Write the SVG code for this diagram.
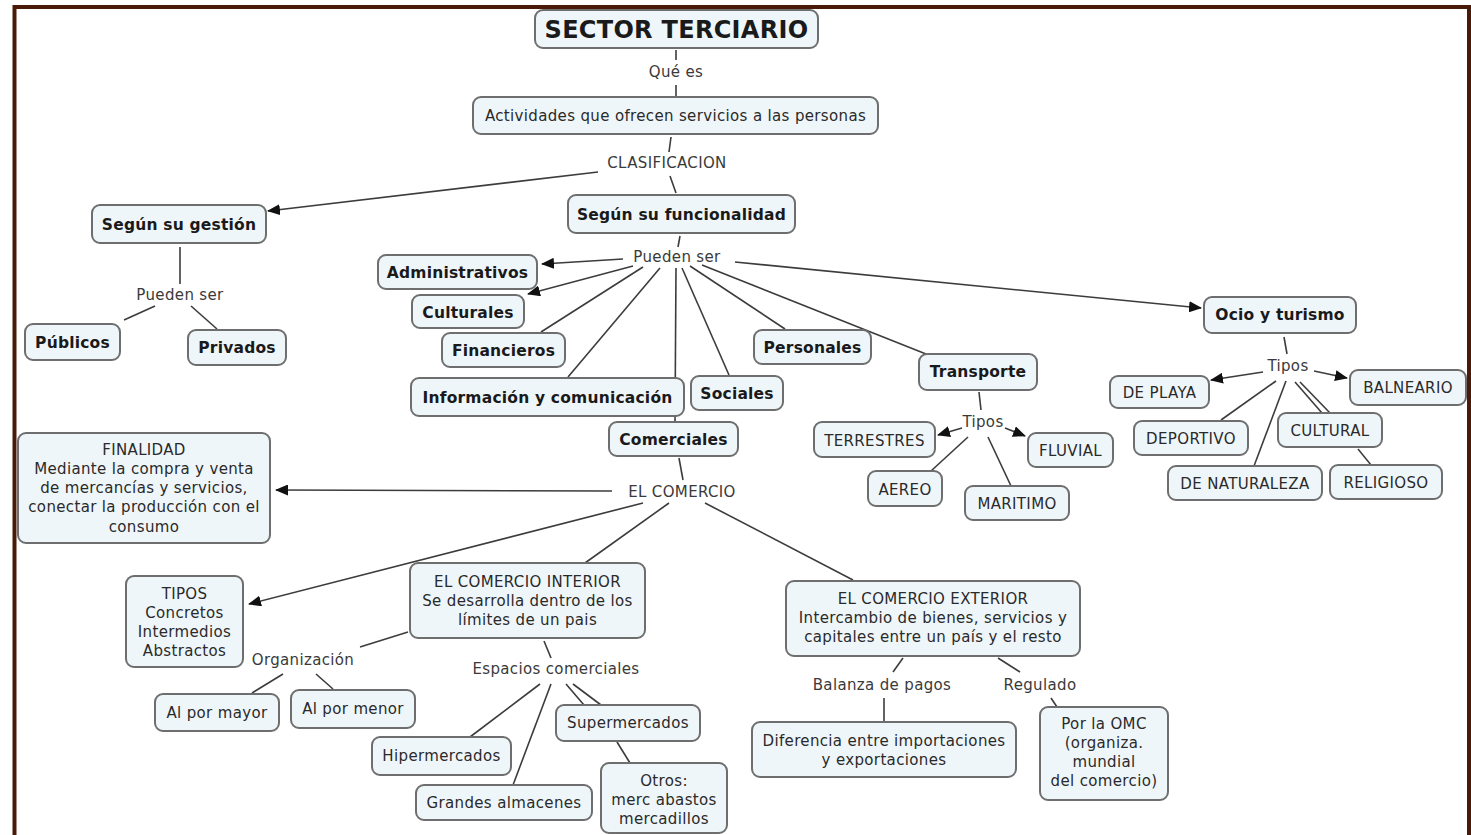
<svg xmlns="http://www.w3.org/2000/svg" width="1471" height="835" viewBox="0 0 1471 835">
<defs>
<marker id="arr" markerWidth="13" markerHeight="11" refX="12" refY="5.5" orient="auto" markerUnits="userSpaceOnUse"><path d="M0,0 L13,5.5 L0,11 z" fill="#111"/></marker>
<style>
.box{fill:#eff6fa;stroke:#6e6e6e;stroke-width:2}
.t{font-family:"DejaVu Sans",Verdana,sans-serif;font-size:15px;letter-spacing:0.35px;fill:#2a2a2a;text-anchor:middle}
.b{font-weight:bold;font-size:15.5px;letter-spacing:0.2px;fill:#1a1a1a}
.lbl{font-family:"DejaVu Sans",Verdana,sans-serif;font-size:15px;letter-spacing:0.35px;fill:#3a3a3a;text-anchor:middle}
.c{stroke:#3c3c3c;stroke-width:1.6;fill:none}
.a{marker-end:url(#arr)}
</style>
</defs>
<rect x="0" y="0" width="1471" height="835" fill="#ffffff"/>
<rect x="14.5" y="7" width="1454.5" height="840" fill="none" stroke="#4a1a08" stroke-width="4"/>

<g id="connectors">
<line class="c" x1="676" y1="50" x2="676" y2="60"/>
<line class="c" x1="676" y1="85" x2="676" y2="97"/>
<line class="c" x1="671" y1="137" x2="669" y2="152"/>
<line class="c a" x1="598" y1="172" x2="268" y2="211"/>
<line class="c" x1="670" y1="176" x2="676" y2="193"/>
<line class="c" x1="180" y1="247" x2="180" y2="284"/>
<line class="c" x1="155" y1="306" x2="124" y2="320"/>
<line class="c" x1="191" y1="306" x2="217" y2="329"/>
<line class="c" x1="680" y1="236" x2="678" y2="247"/>
<line class="c a" x1="623" y1="259" x2="542" y2="264"/>
<line class="c a" x1="633" y1="266" x2="528" y2="294"/>
<line class="c" x1="643" y1="267" x2="541" y2="332"/>
<line class="c" x1="660" y1="268" x2="568" y2="377"/>
<line class="c" x1="676" y1="268" x2="675" y2="422"/>
<line class="c" x1="682" y1="268" x2="729" y2="375"/>
<line class="c" x1="690" y1="266" x2="785" y2="329"/>
<line class="c" x1="702" y1="265" x2="926" y2="354"/>
<line class="c a" x1="735" y1="262" x2="1201" y2="308"/>
<line class="c" x1="979" y1="392" x2="981" y2="410"/>
<line class="c a" x1="962" y1="428" x2="938" y2="435"/>
<line class="c a" x1="1005" y1="428" x2="1025" y2="436"/>
<line class="c" x1="968" y1="437" x2="931" y2="471"/>
<line class="c" x1="988" y1="437" x2="1011" y2="486"/>
<line class="c" x1="1284" y1="337" x2="1287" y2="354"/>
<line class="c a" x1="1263" y1="372" x2="1211" y2="380"/>
<line class="c a" x1="1314" y1="371" x2="1347" y2="378"/>
<line class="c" x1="1276" y1="381" x2="1221" y2="420"/>
<line class="c" x1="1286" y1="381" x2="1254" y2="466"/>
<line class="c" x1="1295" y1="382" x2="1322" y2="413"/>
<line class="c" x1="1300" y1="382" x2="1330" y2="413"/>
<line class="c" x1="1358" y1="449" x2="1371" y2="465"/>
<line class="c" x1="679" y1="458" x2="683" y2="480"/>
<line class="c a" x1="612" y1="491" x2="276" y2="490"/>
<line class="c a" x1="643" y1="503" x2="249" y2="604"/>
<line class="c" x1="669" y1="503" x2="585" y2="563"/>
<line class="c" x1="705" y1="503" x2="853" y2="580"/>
<line class="c" x1="408" y1="632" x2="360" y2="647"/>
<line class="c" x1="283" y1="674" x2="252" y2="693"/>
<line class="c" x1="316" y1="674" x2="333" y2="689"/>
<line class="c" x1="544" y1="641" x2="551" y2="658"/>
<line class="c" x1="540" y1="684" x2="470" y2="737"/>
<line class="c" x1="551" y1="684" x2="513" y2="785"/>
<line class="c" x1="566" y1="684" x2="584" y2="705"/>
<line class="c" x1="573" y1="684" x2="601" y2="705"/>
<line class="c" x1="617" y1="742" x2="630" y2="763"/>
<line class="c" x1="903" y1="658" x2="893" y2="672"/>
<line class="c" x1="884" y1="698" x2="884" y2="721"/>
<line class="c" x1="998" y1="658" x2="1020" y2="672"/>
<line class="c" x1="1051" y1="698" x2="1057" y2="707"/>
</g>

<g id="labels">
<text class="lbl" x="676" y="77">Qué es</text>
<text class="lbl" x="667" y="168">CLASIFICACION</text>
<text class="lbl" x="180" y="300">Pueden ser</text>
<text class="lbl" x="677" y="262">Pueden ser</text>
<text class="lbl" x="983" y="427">Tipos</text>
<text class="lbl" x="1288" y="371">Tipos</text>
<text class="lbl" x="682" y="497">EL COMERCIO</text>
<text class="lbl" x="303" y="665">Organización</text>
<text class="lbl" x="556" y="674">Espacios comerciales</text>
<text class="lbl" x="882" y="690">Balanza de pagos</text>
<text class="lbl" x="1040" y="690">Regulado</text>
</g>

<g id="n-sector"><rect class="box" x="535" y="10" width="283" height="38" rx="8"/><text class="t b" x="676.5" y="37.5" style="font-size:24px;letter-spacing:0.3px">SECTOR TERCIARIO</text></g>
<g id="n-actividades"><rect class="box" x="473" y="97" width="405" height="37" rx="8"/><text class="t" x="675.5" y="120.5">Actividades que ofrecen servicios a las personas</text></g>
<g id="n-gestion"><rect class="box" x="92" y="205" width="174" height="38" rx="8"/><text class="t b" x="179" y="229.5">Según su gestión</text></g>
<g id="n-funcionalidad"><rect class="box" x="568" y="195" width="227" height="38" rx="8"/><text class="t b" x="681.5" y="219.5">Según su funcionalidad</text></g>
<g id="n-publicos"><rect class="box" x="25" y="324" width="95" height="36" rx="8"/><text class="t b" x="72.5" y="347.5">Públicos</text></g>
<g id="n-privados"><rect class="box" x="188" y="330" width="98" height="35" rx="8"/><text class="t b" x="237" y="352.5">Privados</text></g>
<g id="n-administrativos"><rect class="box" x="378" y="255" width="159" height="34" rx="8"/><text class="t b" x="457.5" y="277.5">Administrativos</text></g>
<g id="n-culturales"><rect class="box" x="412" y="295" width="112" height="33" rx="8"/><text class="t b" x="468" y="317.5">Culturales</text></g>
<g id="n-financieros"><rect class="box" x="442" y="333" width="123" height="34" rx="8"/><text class="t b" x="503.5" y="355.5">Financieros</text></g>
<g id="n-informacion"><rect class="box" x="411" y="378" width="273" height="38" rx="8"/><text class="t b" x="547.5" y="402.5">Información y comunicación</text></g>
<g id="n-sociales"><rect class="box" x="691" y="376" width="92" height="34" rx="8"/><text class="t b" x="737" y="398.5">Sociales</text></g>
<g id="n-personales"><rect class="box" x="754" y="330" width="117" height="34" rx="8"/><text class="t b" x="812.5" y="352.5">Personales</text></g>
<g id="n-comerciales"><rect class="box" x="609" y="422" width="129" height="34" rx="8"/><text class="t b" x="673.5" y="444.5">Comerciales</text></g>
<g id="n-transporte"><rect class="box" x="919" y="354" width="118" height="36" rx="8"/><text class="t b" x="978" y="376.5">Transporte</text></g>
<g id="n-ocio"><rect class="box" x="1204" y="297" width="152" height="36" rx="8"/><text class="t b" x="1280" y="319.5">Ocio y turismo</text></g>
<g id="n-terrestres"><rect class="box" x="814" y="422" width="121" height="35" rx="8"/><text class="t" x="874.5" y="445.5">TERRESTRES</text></g>
<g id="n-fluvial"><rect class="box" x="1028" y="433" width="85" height="34" rx="8"/><text class="t" x="1070.5" y="455.5">FLUVIAL</text></g>
<g id="n-aereo"><rect class="box" x="868" y="471" width="74" height="35" rx="8"/><text class="t" x="905" y="494.5">AEREO</text></g>
<g id="n-maritimo"><rect class="box" x="965" y="486" width="104" height="34" rx="8"/><text class="t" x="1017" y="508.5">MARITIMO</text></g>
<g id="n-playa"><rect class="box" x="1110" y="376" width="99" height="32" rx="8"/><text class="t" x="1159.5" y="397.5">DE PLAYA</text></g>
<g id="n-balneario"><rect class="box" x="1350" y="370" width="116" height="35" rx="8"/><text class="t" x="1408" y="393">BALNEARIO</text></g>
<g id="n-deportivo"><rect class="box" x="1134" y="421" width="114" height="34" rx="8"/><text class="t" x="1191" y="443.5">DEPORTIVO</text></g>
<g id="n-cultural"><rect class="box" x="1278" y="413" width="104" height="34" rx="8"/><text class="t" x="1330" y="435.5">CULTURAL</text></g>
<g id="n-naturaleza"><rect class="box" x="1168" y="466" width="154" height="34" rx="8"/><text class="t" x="1245" y="488.5">DE NATURALEZA</text></g>
<g id="n-religioso"><rect class="box" x="1330" y="465" width="112" height="34" rx="8"/><text class="t" x="1386" y="487.5">RELIGIOSO</text></g>
<g id="n-finalidad"><rect class="box" x="18" y="433" width="252" height="110" rx="8"/><text class="t" x="144" y="454.5"><tspan x="144">FINALIDAD</tspan><tspan x="144" dy="19.3">Mediante la compra y venta</tspan><tspan x="144" dy="19.3">de mercancías y servicios,</tspan><tspan x="144" dy="19.3">conectar la producción con el</tspan><tspan x="144" dy="19.3">consumo</tspan></text></g>
<g id="n-tipos"><rect class="box" x="126" y="576" width="117" height="91" rx="8"/><text class="t" x="184.5" y="598.5"><tspan x="184.5">TIPOS</tspan><tspan x="184.5" dy="19">Concretos</tspan><tspan x="184.5" dy="19">Intermedios</tspan><tspan x="184.5" dy="19">Abstractos</tspan></text></g>
<g id="n-interior"><rect class="box" x="410" y="563" width="235" height="75" rx="8"/><text class="t" x="527.5" y="586.5"><tspan x="527.5">EL COMERCIO INTERIOR</tspan><tspan x="527.5" dy="19">Se desarrolla dentro de los</tspan><tspan x="527.5" dy="19">límites de un pais</tspan></text></g>
<g id="n-exterior"><rect class="box" x="786" y="581" width="294" height="75" rx="8"/><text class="t" x="933" y="603.5"><tspan x="933">EL COMERCIO EXTERIOR</tspan><tspan x="933" dy="19">Intercambio de bienes, servicios y</tspan><tspan x="933" dy="19">capitales entre un país y el resto</tspan></text></g>
<g id="n-mayor"><rect class="box" x="155" y="694" width="124" height="37" rx="8"/><text class="t" x="217" y="717.5">Al por mayor</text></g>
<g id="n-menor"><rect class="box" x="291" y="690" width="124" height="38" rx="8"/><text class="t" x="353" y="713.5">Al por menor</text></g>
<g id="n-hiper"><rect class="box" x="372" y="737" width="139" height="38" rx="8"/><text class="t" x="441.5" y="760.5">Hipermercados</text></g>
<g id="n-grandes"><rect class="box" x="416" y="785" width="176" height="35" rx="8"/><text class="t" x="504" y="807.5">Grandes almacenes</text></g>
<g id="n-super"><rect class="box" x="556" y="705" width="144" height="36" rx="8"/><text class="t" x="628" y="727.5">Supermercados</text></g>
<g id="n-otros"><rect class="box" x="601" y="763" width="126" height="70" rx="8"/><text class="t" x="664" y="785.5"><tspan x="664">Otros:</tspan><tspan x="664" dy="19">merc abastos</tspan><tspan x="664" dy="19">mercadillos</tspan></text></g>
<g id="n-diferencia"><rect class="box" x="752" y="722" width="264" height="55" rx="8"/><text class="t" x="884" y="745.5"><tspan x="884">Diferencia entre importaciones</tspan><tspan x="884" dy="19">y exportaciones</tspan></text></g>
<g id="n-omc"><rect class="box" x="1040" y="707" width="128" height="93" rx="8"/><text class="t" x="1104" y="728.5"><tspan x="1104">Por la OMC</tspan><tspan x="1104" dy="19">(organiza.</tspan><tspan x="1104" dy="19">mundial</tspan><tspan x="1104" dy="19">del comercio)</tspan></text></g>
</svg>
